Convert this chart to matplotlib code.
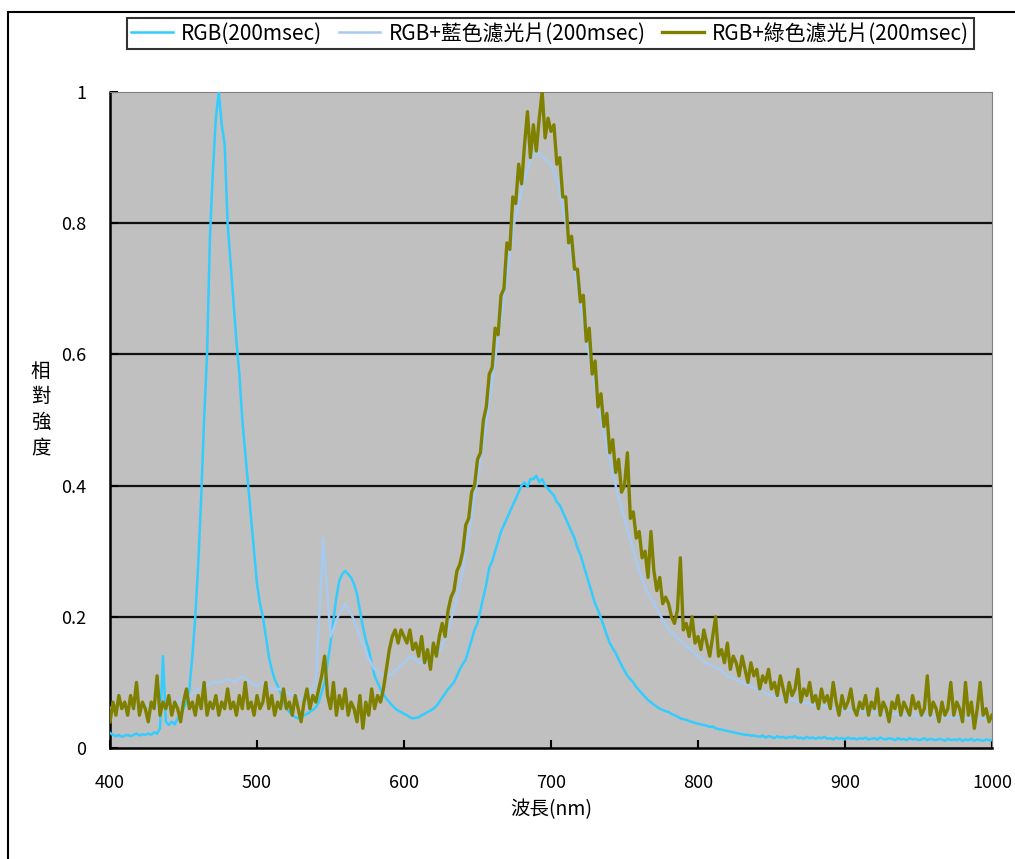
import numpy as np
import matplotlib
matplotlib.use("Agg")
import matplotlib.pyplot as plt
from matplotlib.patches import Rectangle
from matplotlib.ticker import FuncFormatter

plt.rcParams['font.family'] = ['Noto Sans CJK TC', 'DejaVu Sans']

# wavelength grids (nm)
wl_2nm = np.arange(400, 1001, 2)
wl_5nm = np.arange(400, 1001, 5)

# RGB (200msec), sampled every 2 nm
rgb = [
    0.023, 0.020, 0.018, 0.020, 0.017, 0.019, 0.020, 0.018, 0.020, 0.022,   # 400-418
    0.019, 0.021, 0.020, 0.022, 0.020, 0.024, 0.022, 0.030, 0.140, 0.040,   # 420-438
    0.035, 0.040, 0.036, 0.045, 0.050, 0.060, 0.070, 0.090, 0.140, 0.200,   # 440-458
    0.280, 0.380, 0.500, 0.600, 0.780, 0.880, 0.960, 1.000, 0.950, 0.920,   # 460-478
    0.800, 0.740, 0.680, 0.620, 0.570, 0.500, 0.450, 0.400, 0.350, 0.300,   # 480-498
    0.250, 0.220, 0.200, 0.170, 0.140, 0.120, 0.105, 0.095, 0.085, 0.070,   # 500-518
    0.060, 0.055, 0.050, 0.047, 0.045, 0.048, 0.050, 0.052, 0.055, 0.058,   # 520-538
    0.062, 0.070, 0.085, 0.100, 0.130, 0.160, 0.195, 0.230, 0.255, 0.265,   # 540-558
    0.270, 0.265, 0.260, 0.250, 0.235, 0.210, 0.185, 0.165, 0.150, 0.130,   # 560-578
    0.110, 0.100, 0.090, 0.082, 0.075, 0.070, 0.065, 0.060, 0.057, 0.055,   # 580-598
    0.052, 0.050, 0.047, 0.045, 0.046, 0.047, 0.050, 0.052, 0.055, 0.057,   # 600-618
    0.060, 0.064, 0.070, 0.077, 0.083, 0.090, 0.095, 0.100, 0.110, 0.120,   # 620-638
    0.128, 0.135, 0.150, 0.165, 0.180, 0.190, 0.210, 0.230, 0.250, 0.275,   # 640-658
    0.285, 0.300, 0.315, 0.330, 0.340, 0.350, 0.360, 0.370, 0.380, 0.390,   # 660-678
    0.400, 0.405, 0.398, 0.410, 0.410, 0.415, 0.405, 0.410, 0.400, 0.395,   # 680-698
    0.390, 0.385, 0.375, 0.370, 0.360, 0.350, 0.340, 0.330, 0.320, 0.305,   # 700-718
    0.295, 0.280, 0.265, 0.250, 0.235, 0.220, 0.210, 0.198, 0.185, 0.172,   # 720-738
    0.160, 0.152, 0.145, 0.135, 0.126, 0.118, 0.110, 0.105, 0.100, 0.093,   # 740-758
    0.088, 0.083, 0.078, 0.073, 0.070, 0.066, 0.063, 0.060, 0.058, 0.056,   # 760-778
    0.055, 0.052, 0.050, 0.048, 0.045, 0.044, 0.043, 0.041, 0.040, 0.038,   # 780-798
    0.037, 0.036, 0.035, 0.034, 0.032, 0.033, 0.030, 0.029, 0.028, 0.027,   # 800-818
    0.026, 0.025, 0.024, 0.023, 0.022, 0.021, 0.020, 0.020, 0.019, 0.019,   # 820-838
    0.018, 0.017, 0.019, 0.016, 0.018, 0.017, 0.015, 0.018, 0.016, 0.017,   # 840-858
    0.015, 0.017, 0.016, 0.018, 0.015, 0.016, 0.014, 0.017, 0.015, 0.016,   # 860-878
    0.014, 0.016, 0.015, 0.017, 0.014, 0.015, 0.013, 0.016, 0.014, 0.015,   # 880-898
    0.013, 0.016, 0.014, 0.015, 0.013, 0.015, 0.014, 0.016, 0.013, 0.014,   # 900-918
    0.015, 0.013, 0.016, 0.014, 0.013, 0.015, 0.014, 0.012, 0.015, 0.013,   # 920-938
    0.014, 0.012, 0.015, 0.013, 0.014, 0.012, 0.013, 0.015, 0.012, 0.014,   # 940-958
    0.013, 0.012, 0.014, 0.013, 0.011, 0.014, 0.012, 0.013, 0.012, 0.014,   # 960-978
    0.011, 0.013, 0.012, 0.014, 0.011, 0.013, 0.012, 0.011, 0.013, 0.012,   # 980-998
    0.012,                                                                  # 1000
]

# RGB + blue filter (200msec), sampled every 5 nm
rgb_blue = [
    0.060, 0.070, 0.060, 0.070, 0.060, 0.065, 0.060, 0.070, 0.065, 0.070,   # 400-445
    0.075, 0.080, 0.090, 0.095, 0.100, 0.100, 0.105, 0.100, 0.110, 0.100,   # 450-495
    0.095, 0.100, 0.090, 0.090, 0.085, 0.080, 0.075, 0.080, 0.100, 0.320,   # 500-545
    0.170, 0.200, 0.220, 0.200, 0.170, 0.140, 0.120, 0.110, 0.110, 0.120,   # 550-595
    0.130, 0.140, 0.130, 0.130, 0.140, 0.150, 0.180, 0.220, 0.270, 0.340,   # 600-645
    0.410, 0.480, 0.560, 0.640, 0.720, 0.800, 0.850, 0.890, 0.910, 0.900,   # 650-695
    0.890, 0.860, 0.800, 0.740, 0.680, 0.610, 0.550, 0.490, 0.440, 0.390,   # 700-745
    0.350, 0.310, 0.270, 0.240, 0.220, 0.200, 0.180, 0.170, 0.160, 0.150,   # 750-795
    0.140, 0.130, 0.125, 0.120, 0.110, 0.105, 0.100, 0.095, 0.090, 0.085,   # 800-845
    0.080, 0.078, 0.075, 0.072, 0.070, 0.068, 0.065, 0.063, 0.062, 0.060,   # 850-895
    0.058, 0.057, 0.056, 0.055, 0.054, 0.053, 0.052, 0.052, 0.051, 0.050,   # 900-945
    0.050, 0.049, 0.048, 0.048, 0.047, 0.047, 0.046, 0.046, 0.045, 0.045,   # 950-995
    0.044,                                                                  # 1000
]

# RGB + green filter (200msec), sampled every 2 nm
rgb_green = [
    0.04, 0.07, 0.05, 0.08, 0.06, 0.07, 0.05, 0.08, 0.06, 0.10,   # 400-418
    0.05, 0.07, 0.06, 0.04, 0.07, 0.06, 0.11, 0.05, 0.07, 0.06,   # 420-438
    0.08, 0.05, 0.07, 0.06, 0.04, 0.07, 0.09, 0.06, 0.07, 0.05,   # 440-458
    0.08, 0.06, 0.10, 0.05, 0.07, 0.06, 0.08, 0.05, 0.07, 0.06,   # 460-478
    0.09, 0.06, 0.07, 0.05, 0.08, 0.06, 0.10, 0.06, 0.07, 0.05,   # 480-498
    0.08, 0.06, 0.07, 0.10, 0.06, 0.08, 0.05, 0.07, 0.06, 0.09,   # 500-518
    0.06, 0.07, 0.05, 0.08, 0.06, 0.04, 0.07, 0.09, 0.06, 0.08,   # 520-538
    0.07, 0.09, 0.11, 0.14, 0.08, 0.06, 0.10, 0.05, 0.08, 0.06,   # 540-558
    0.09, 0.05, 0.07, 0.06, 0.04, 0.08, 0.03, 0.07, 0.05, 0.09,   # 560-578
    0.06, 0.08, 0.07, 0.09, 0.12, 0.15, 0.17, 0.18, 0.16, 0.18,   # 580-598
    0.17, 0.16, 0.18, 0.15, 0.16, 0.14, 0.17, 0.13, 0.15, 0.12,   # 600-618
    0.16, 0.14, 0.17, 0.19, 0.17, 0.21, 0.23, 0.24, 0.27, 0.28,   # 620-638
    0.30, 0.34, 0.35, 0.39, 0.40, 0.44, 0.45, 0.50, 0.52, 0.57,   # 640-658
    0.58, 0.64, 0.63, 0.69, 0.70, 0.77, 0.76, 0.84, 0.83, 0.89,   # 660-678
    0.86, 0.92, 0.97, 0.90, 0.95, 0.91, 0.96, 1.00, 0.93, 0.96,   # 680-698
    0.94, 0.95, 0.89, 0.90, 0.84, 0.84, 0.77, 0.78, 0.73, 0.73,   # 700-718
    0.68, 0.69, 0.62, 0.64, 0.57, 0.59, 0.52, 0.54, 0.49, 0.51,   # 720-738
    0.45, 0.47, 0.42, 0.44, 0.39, 0.40, 0.45, 0.35, 0.36, 0.32,   # 740-758
    0.33, 0.29, 0.30, 0.26, 0.33, 0.27, 0.24, 0.26, 0.22, 0.23,   # 760-778
    0.22, 0.20, 0.19, 0.21, 0.29, 0.18, 0.19, 0.17, 0.20, 0.16,   # 780-798
    0.17, 0.15, 0.18, 0.16, 0.14, 0.17, 0.20, 0.14, 0.15, 0.13,   # 800-818
    0.16, 0.12, 0.14, 0.13, 0.11, 0.14, 0.12, 0.10, 0.13, 0.11,   # 820-838
    0.12, 0.09, 0.11, 0.10, 0.12, 0.09, 0.10, 0.08, 0.11, 0.09,   # 840-858
    0.07, 0.10, 0.08, 0.09, 0.12, 0.07, 0.09, 0.08, 0.10, 0.07,   # 860-878
    0.08, 0.06, 0.09, 0.07, 0.08, 0.06, 0.10, 0.07, 0.05, 0.08,   # 880-898
    0.06, 0.07, 0.09, 0.06, 0.05, 0.07, 0.06, 0.08, 0.05, 0.07,   # 900-918
    0.06, 0.09, 0.05, 0.07, 0.06, 0.04, 0.07, 0.06, 0.08, 0.05,   # 920-938
    0.07, 0.06, 0.05, 0.08, 0.06, 0.07, 0.05, 0.06, 0.11, 0.05,   # 940-958
    0.07, 0.06, 0.04, 0.07, 0.05, 0.06, 0.10, 0.05, 0.07, 0.06,   # 960-978
    0.04, 0.10, 0.05, 0.07, 0.03, 0.06, 0.10, 0.05, 0.06, 0.04,   # 980-998
    0.05,                                                         # 1000
]

labels = ["RGB(200msec)", "RGB+藍色濾光片(200msec)", "RGB+綠色濾光片(200msec)"]
colors = ["#33ccff", "#a6caf0", "#808000"]

fig = plt.figure(figsize=(10.15, 8.59), dpi=100)
ax = fig.add_axes([0.1084, 0.1292, 0.8689, 0.7637])
ax.set_facecolor("#c0c0c0")

ax.plot(wl_2nm, rgb, color=colors[0], lw=1.8, label=labels[0], zorder=3)
ax.plot(wl_5nm, rgb_blue, color=colors[1], lw=1.8, label=labels[1], zorder=4)
ax.plot(wl_2nm, rgb_green, color=colors[2], lw=2.4, label=labels[2], zorder=5)

ax.set_xlim(400, 1000)
ax.set_ylim(0, 1)
ax.set_xticks(np.arange(400, 1001, 100))
ax.set_yticks(np.arange(0, 1.01, 0.2))
ax.yaxis.set_major_formatter(FuncFormatter(lambda v, p: f"{v:g}"))
ax.tick_params(direction="in", length=6, width=1.5, labelsize=13, pad=17)
ax.tick_params(axis="x", pad=19)

for y in [0.2, 0.4, 0.6, 0.8]:
    ax.axhline(y, color="#111111", lw=1.6, zorder=1)

ax.spines["left"].set_linewidth(1.8)
ax.spines["bottom"].set_linewidth(1.8)
ax.spines["top"].set_color("#808080")
ax.spines["right"].set_color("#808080")

ax.set_xlabel("波長(nm)", fontsize=14, labelpad=5)
fig.text(0.040, 0.523, "相\n對\n強\n度", fontsize=14, ha="center", va="center",
         linespacing=1.3)

leg = fig.legend(loc="center", bbox_to_anchor=(0.542, 0.961), ncol=3,
                 fontsize=15, frameon=True, fancybox=False, edgecolor="black",
                 handlelength=2.0, handletextpad=0.4, columnspacing=0.8,
                 borderpad=0.2)
leg.get_frame().set_linewidth(1.5)

# outer chart border
fig.patches.append(Rectangle((0.008, -0.1), 1.2, 1.086, transform=fig.transFigure,
                             fill=False, edgecolor="black", lw=1.5))

fig.savefig("out.png", dpi=100)
